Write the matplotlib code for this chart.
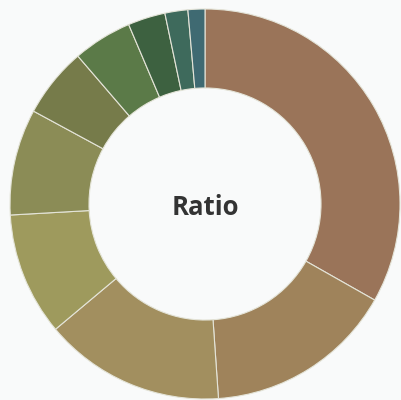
import matplotlib
matplotlib.use("Agg")
import matplotlib.pyplot as plt

labels = ["A", "B", "C", "D", "E", "F", "G", "H", "I", "J"]
values = [33.2, 15.7, 15.0, 10.2, 8.8, 5.8, 4.9, 3.1, 1.9, 1.4]
colors = ["#9a7459", "#9f835b", "#a28f5f", "#9e9a5d", "#8b8c56", "#767b4a",
          "#5b7a48", "#3d6140", "#3e6a5c", "#3f6a72"]
title = "Ratio"

bg = "#f9fafa"
fig = plt.figure(figsize=(4.01, 4.0), dpi=100, facecolor=bg)
ax = fig.add_axes([0, 0, 1, 1])
ax.set_facecolor(bg)

ax.pie(values, colors=colors, startangle=90, counterclock=False,
       radius=1.0,
       wedgeprops=dict(width=0.405, edgecolor="#e4e4d8", linewidth=0.8))
ax.set_aspect("auto")
R = 195.0
ax.set_xlim(-205 / R, (401 - 205) / R)
ax.set_ylim(-(400 - 204) / R, 204 / R)
ax.axis("off")

ax.text(0, -4 / R, title, ha="center", va="center", fontsize=18.5,
        fontweight="bold", color="#333333", family=["Open Sans", "DejaVu Sans"])

fig.savefig("out.png", dpi=100, facecolor=bg)
